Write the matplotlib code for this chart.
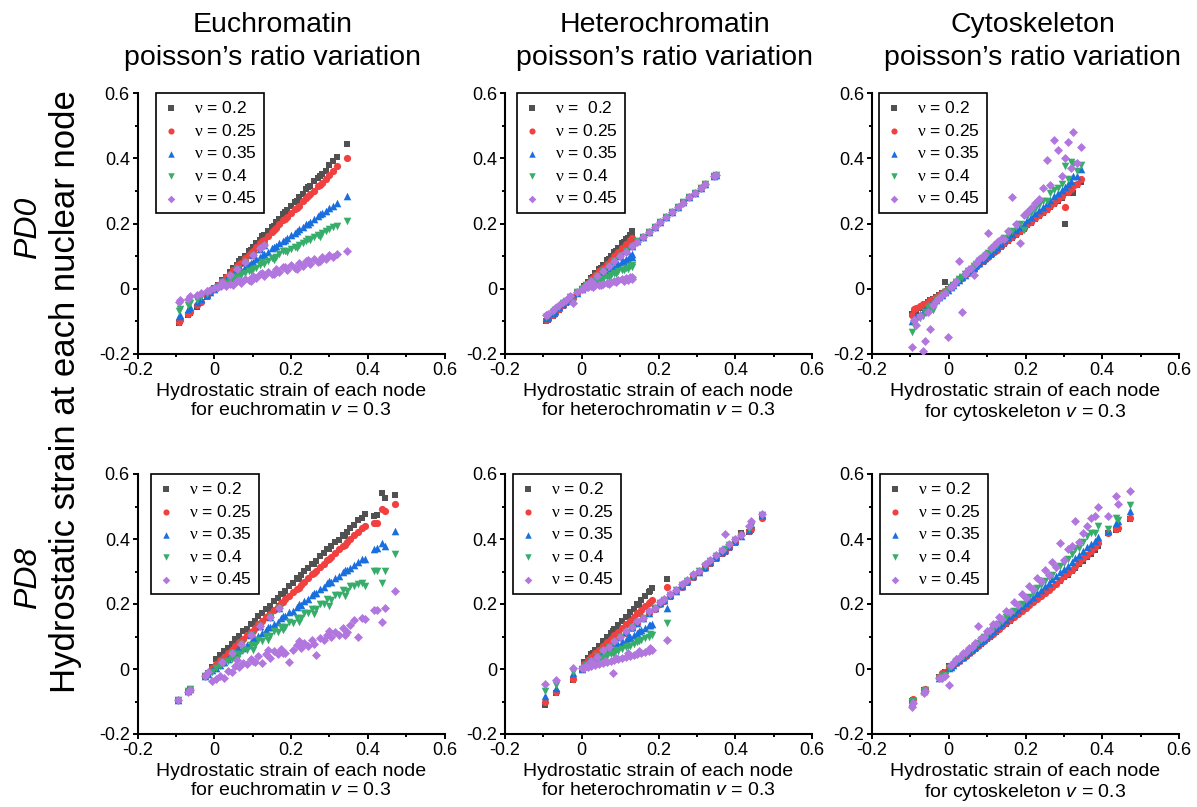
import matplotlib
matplotlib.use('Agg')
import matplotlib.pyplot as plt
from matplotlib.ticker import MultipleLocator, FixedLocator, FuncFormatter

plt.rcParams['font.family'] = ['Liberation Sans', 'DejaVu Sans']
plt.rcParams['mathtext.fontset'] = 'custom'
plt.rcParams['mathtext.rm'] = 'Liberation Serif'
plt.rcParams['mathtext.it'] = 'Liberation Sans:italic'
plt.rcParams['mathtext.bf'] = 'Liberation Sans:bold'
plt.rcParams['axes.unicode_minus'] = False

# ---------------- data ----------------
nu_values = ['0.2', '0.25', '0.35', '0.4', '0.45']
col_titles = ['Euchromatin', 'Heterochromatin', 'Cytoskeleton']
col_subtitle = 'poisson\u2019s ratio variation'
materials = ['euchromatin', 'heterochromatin', 'cytoskeleton']
row_labels = ['PD0', 'PD8']
ticks = [-0.2, 0, 0.2, 0.4, 0.6]

# Panel A: PD0, euchromatin
xA = [-0.092, -0.088, -0.068, -0.063, -0.045, -0.035, -0.020, -0.010, 0.000,
      0.010, 0.020, 0.030, 0.040, 0.050, 0.060, 0.070, 0.080, 0.090, 0.100,
      0.110, 0.120, 0.130, 0.140, 0.150, 0.160, 0.170, 0.180, 0.190, 0.200,
      0.210, 0.220, 0.230, 0.240, 0.250, 0.260, 0.270, 0.280, 0.290, 0.300,
      0.310, 0.320, 0.347,
      0.020, 0.040, 0.060, 0.080, 0.100, 0.120, 0.130,
      0.065, 0.095, 0.125, 0.155, 0.185, 0.215, 0.245, 0.275]
yA_02 = [-0.105, -0.099, -0.081, -0.074, -0.055, -0.042, -0.024, -0.011, 0.002,
         0.013, 0.027, 0.037, 0.052, 0.065, 0.074, 0.090, 0.100, 0.115, 0.128,
         0.140, 0.150, 0.166, 0.178, 0.190, 0.205, 0.214, 0.230, 0.240, 0.254,
         0.266, 0.280, 0.290, 0.305, 0.316, 0.330, 0.338, 0.352, 0.362, 0.378,
         0.392, 0.405, 0.445,
         0.022, 0.043, 0.064, 0.085, 0.107, 0.128, 0.138,
         0.084, 0.118, 0.161, 0.193, 0.236, 0.268, 0.312, 0.345]
yA_025 = [-0.101, -0.096, -0.077, -0.071, -0.051, -0.040, -0.022, -0.010, 0.000,
          0.011, 0.022, 0.035, 0.046, 0.057, 0.070, 0.080, 0.094, 0.103, 0.116,
          0.127, 0.140, 0.150, 0.163, 0.174, 0.186, 0.197, 0.210, 0.220, 0.232,
          0.244, 0.254, 0.268, 0.278, 0.290, 0.300, 0.314, 0.325, 0.336, 0.348,
          0.360, 0.375, 0.400,
          0.021, 0.042, 0.063, 0.084, 0.105, 0.126, 0.136,
          0.075, 0.110, 0.145, 0.180, 0.215, 0.249, 0.284, 0.319]
yA_035 = [-0.082, -0.079, -0.062, -0.056, -0.040, -0.031, -0.018, -0.009, 0.000,
          0.008, 0.016, 0.026, 0.033, 0.042, 0.049, 0.058, 0.067, 0.073, 0.083,
          0.091, 0.098, 0.108, 0.114, 0.124, 0.131, 0.140, 0.147, 0.157, 0.164,
          0.172, 0.182, 0.188, 0.198, 0.205, 0.213, 0.222, 0.231, 0.237, 0.247,
          0.255, 0.264, 0.285,
          0.020, 0.041, 0.061, 0.082, 0.102, 0.122, 0.133,
          0.055, 0.080, 0.101, 0.129, 0.150, 0.178, 0.199, 0.228]
yA_04 = [-0.067, -0.062, -0.051, -0.045, -0.034, -0.026, -0.015, -0.007, 0.000,
         0.006, 0.013, 0.017, 0.025, 0.029, 0.037, 0.041, 0.049, 0.053, 0.062,
         0.065, 0.074, 0.077, 0.086, 0.094, 0.098, 0.106, 0.116, 0.112, 0.123,
         0.128, 0.135, 0.140, 0.147, 0.148, 0.158, 0.165, 0.170, 0.176, 0.183,
         0.188, 0.193, 0.208,
         0.020, 0.040, 0.061, 0.081, 0.101, 0.121, 0.131,
         0.045, 0.054, 0.081, 0.087, 0.117, 0.125, 0.152, 0.160]
yA_045 = [-0.041, -0.036, -0.030, -0.022, -0.019, -0.013, -0.008, -0.003, 0.001,
          0.004, 0.010, 0.008, 0.016, 0.012, 0.024, 0.019, 0.030, 0.026, 0.038,
          0.032, 0.045, 0.038, 0.051, 0.046, 0.060, 0.052, 0.066, 0.058, 0.072,
          0.064, 0.079, 0.070, 0.086, 0.075, 0.092, 0.081, 0.098, 0.090, 0.104,
          0.098, 0.106, 0.116,
          0.021, 0.041, 0.062, 0.083, 0.104, 0.125, 0.133,
          0.028, 0.025, 0.048, 0.044, 0.068, 0.060, 0.088, 0.085]

# Panel B: PD0, heterochromatin
xB = [-0.092, -0.088, -0.075, -0.070, -0.058, -0.048, -0.040, -0.030, -0.023, -0.012,
      0.000, 0.012, 0.025, 0.040, 0.055, 0.070, 0.085, 0.100, 0.115, 0.130,
      0.145, 0.160, 0.175, 0.190, 0.205, 0.220, 0.235, 0.250, 0.265, 0.280,
      0.295, 0.310, 0.322, 0.345, 0.350,
      0.005, 0.015, 0.025, 0.035, 0.045, 0.055, 0.065, 0.075, 0.085, 0.095, 0.105, 0.115, 0.125, 0.132,
      0.030, 0.050, 0.070, 0.090, 0.110, 0.120, 0.130]
yB_02 = [-0.099, -0.095, -0.082, -0.076, -0.064, -0.052, -0.044, -0.033, -0.030, -0.014,
         0.000, 0.012, 0.025, 0.040, 0.055, 0.070, 0.085, 0.100, 0.115, 0.130,
         0.145, 0.160, 0.175, 0.190, 0.205, 0.220, 0.235, 0.250, 0.265, 0.280,
         0.295, 0.310, 0.322, 0.345, 0.350,
         0.007, 0.020, 0.033, 0.047, 0.060, 0.073, 0.087, 0.100, 0.113, 0.126, 0.140, 0.153, 0.166, 0.177,
         0.037, 0.064, 0.090, 0.116, 0.142, 0.155, 0.168]
yB_025 = [-0.096, -0.092, -0.079, -0.074, -0.062, -0.050, -0.042, -0.031, -0.028, -0.013,
          0.000, 0.012, 0.025, 0.040, 0.055, 0.070, 0.085, 0.100, 0.115, 0.130,
          0.145, 0.160, 0.175, 0.190, 0.205, 0.220, 0.235, 0.250, 0.265, 0.280,
          0.295, 0.310, 0.322, 0.345, 0.350,
          0.006, 0.018, 0.030, 0.041, 0.053, 0.065, 0.077, 0.089, 0.100, 0.112, 0.124, 0.136, 0.148, 0.156,
          0.033, 0.056, 0.079, 0.102, 0.125, 0.137, 0.149]
yB_035 = [-0.089, -0.086, -0.074, -0.068, -0.057, -0.047, -0.039, -0.028, -0.036, -0.012,
          0.000, 0.012, 0.025, 0.040, 0.055, 0.070, 0.085, 0.100, 0.115, 0.130,
          0.145, 0.160, 0.175, 0.190, 0.205, 0.220, 0.235, 0.250, 0.265, 0.280,
          0.295, 0.310, 0.322, 0.345, 0.350,
          0.004, 0.012, 0.020, 0.028, 0.036, 0.044, 0.052, 0.060, 0.068, 0.076, 0.084, 0.092, 0.100, 0.106,
          0.021, 0.036, 0.052, 0.067, 0.083, 0.090, 0.098]
yB_04 = [-0.086, -0.083, -0.071, -0.066, -0.055, -0.045, -0.037, -0.026, -0.040, -0.011,
         0.000, 0.012, 0.025, 0.040, 0.055, 0.070, 0.085, 0.100, 0.115, 0.130,
         0.145, 0.160, 0.175, 0.190, 0.205, 0.220, 0.235, 0.250, 0.265, 0.280,
         0.295, 0.310, 0.322, 0.345, 0.350,
         0.003, 0.008, 0.014, 0.020, 0.025, 0.031, 0.036, 0.042, 0.048, 0.053, 0.059, 0.064, 0.070, 0.074,
         0.014, 0.024, 0.035, 0.045, 0.056, 0.061, 0.067]
yB_045 = [-0.080, -0.078, -0.066, -0.060, -0.050, -0.040, -0.034, -0.022, -0.044, -0.010,
          0.000, 0.011, 0.024, 0.040, 0.054, 0.070, 0.084, 0.100, 0.114, 0.130,
          0.144, 0.160, 0.174, 0.190, 0.204, 0.220, 0.234, 0.250, 0.264, 0.280,
          0.294, 0.310, 0.322, 0.345, 0.348,
          0.002, 0.004, 0.007, 0.010, 0.013, 0.016, 0.019, 0.021, 0.024, 0.027, 0.030, 0.032, 0.035, 0.037,
          0.006, 0.011, 0.015, 0.020, 0.024, 0.027, 0.030]

# Panel C: PD0, cytoskeleton
xC = [-0.095, -0.090, -0.085, -0.075, -0.068, -0.062, -0.055, -0.048, -0.040, -0.032,
      -0.025, -0.018, -0.010, -0.003, 0.005, 0.012, 0.020, 0.028, 0.035, 0.042,
      0.050, 0.058, 0.065, 0.072, 0.080, 0.088, 0.095, 0.102, 0.110, 0.118,
      0.125, 0.135, 0.145, 0.155, 0.165, 0.175, 0.185, 0.195, 0.205, 0.215,
      0.225, 0.235, 0.245, 0.255, 0.265, 0.275, 0.285, 0.295, 0.302, 0.310,
      0.318, 0.325, 0.335, 0.345]
yC_02 = [-0.078, -0.072, -0.068, -0.058, -0.052, -0.048, -0.042, -0.036, -0.031, -0.025,
         -0.020, -0.012, 0.020, -0.002, 0.005, 0.011, 0.019, 0.027, 0.034, 0.040,
         0.047, 0.055, 0.062, 0.068, 0.076, 0.083, 0.090, 0.097, 0.104, 0.112,
         0.118, 0.128, 0.137, 0.147, 0.156, 0.166, 0.175, 0.184, 0.194, 0.203,
         0.213, 0.222, 0.232, 0.241, 0.251, 0.260, 0.270, 0.279, 0.200, 0.293,
         0.301, 0.292, 0.317, 0.327]
yC_025 = [-0.080, -0.062, -0.058, -0.052, -0.046, -0.050, -0.040, -0.036, -0.030, -0.024,
          -0.020, -0.014, -0.008, 0.000, 0.006, 0.012, 0.020, 0.027, 0.034, 0.041,
          0.048, 0.056, 0.062, 0.070, 0.077, 0.085, 0.091, 0.098, 0.106, 0.113,
          0.120, 0.130, 0.139, 0.149, 0.158, 0.168, 0.178, 0.187, 0.197, 0.206,
          0.216, 0.225, 0.235, 0.245, 0.254, 0.264, 0.274, 0.283, 0.250, 0.298,
          0.305, 0.314, 0.322, 0.336]
yC_035 = [-0.100, -0.096, -0.082, -0.078, -0.070, -0.062, -0.058, -0.050, -0.042, -0.034,
          -0.026, -0.019, -0.010, -0.003, 0.005, 0.012, 0.020, 0.028, 0.035, 0.042,
          0.050, 0.058, 0.065, 0.072, 0.080, 0.088, 0.095, 0.103, 0.111, 0.119,
          0.127, 0.137, 0.148, 0.158, 0.168, 0.179, 0.189, 0.199, 0.210, 0.220,
          0.231, 0.241, 0.252, 0.262, 0.273, 0.283, 0.294, 0.304, 0.311, 0.320,
          0.330, 0.346, 0.345, 0.366]
yC_04 = [-0.132, -0.110, -0.096, -0.090, -0.082, -0.071, -0.060, -0.052, -0.065, -0.036,
         -0.028, -0.020, -0.011, -0.003, 0.005, 0.013, 0.021, 0.030, 0.037, 0.045,
         0.053, 0.062, 0.069, 0.077, 0.085, 0.094, 0.101, 0.109, 0.118, 0.126,
         0.134, 0.145, 0.156, 0.167, 0.178, 0.189, 0.200, 0.180, 0.222, 0.232,
         0.244, 0.256, 0.268, 0.270, 0.292, 0.302, 0.310, 0.322, 0.375, 0.335,
         0.390, 0.382, 0.360, 0.380]
yC_045 = [-0.180, -0.096, -0.110, -0.085, -0.190, -0.160, -0.070, -0.122, -0.050, -0.038,
          -0.028, -0.020, -0.012, -0.147, 0.006, 0.013, 0.024, 0.085, -0.070, 0.046,
          0.057, 0.064, 0.043, 0.080, 0.090, 0.098, 0.106, 0.170, 0.124, 0.133,
          0.142, 0.152, 0.151, 0.176, 0.280, 0.200, 0.141, 0.225, 0.236, 0.249,
          0.262, 0.274, 0.310, 0.395, 0.318, 0.455, 0.425, 0.345, 0.400, 0.450,
          0.370, 0.480, 0.385, 0.434]

# Panel D: PD8, euchromatin
xD = [-0.095, -0.068, -0.063, -0.024, -0.015, -0.005, 0.005, 0.015, 0.025, 0.035,
      0.045, 0.055, 0.065, 0.075, 0.085, 0.095, 0.105, 0.115, 0.125, 0.135,
      0.145, 0.155, 0.165, 0.175, 0.185, 0.195, 0.205, 0.215, 0.225, 0.235,
      0.245, 0.255, 0.265, 0.275, 0.285, 0.295, 0.305, 0.315, 0.325, 0.335,
      0.345, 0.355, 0.365, 0.375, 0.385, 0.393, 0.415, 0.424, 0.437, 0.444, 0.472,
      0.020, 0.045, 0.070, 0.095, 0.120, 0.145, 0.170,
      0.060, 0.100, 0.140, 0.180, 0.220, 0.260, 0.300, 0.340]
yD_02 = [-0.096, -0.070, -0.062, -0.020, -0.012, 0.005, 0.031, 0.043, 0.054, 0.066,
         0.078, 0.092, 0.101, 0.116, 0.124, 0.138, 0.148, 0.162, 0.171, 0.185,
         0.195, 0.209, 0.218, 0.232, 0.241, 0.255, 0.265, 0.279, 0.288, 0.302,
         0.310, 0.324, 0.333, 0.347, 0.356, 0.368, 0.377, 0.390, 0.398, 0.412,
         0.421, 0.434, 0.443, 0.457, 0.466, 0.476, 0.470, 0.474, 0.543, 0.526, 0.536,
         0.024, 0.052, 0.081, 0.109, 0.138, 0.166, 0.195,
         0.090, 0.138, 0.185, 0.232, 0.278, 0.322, 0.368, 0.410]
yD_025 = [-0.096, -0.069, -0.062, -0.020, -0.012, 0.004, 0.016, 0.027, 0.038, 0.049,
          0.060, 0.071, 0.082, 0.093, 0.104, 0.115, 0.126, 0.137, 0.148, 0.159,
          0.170, 0.181, 0.192, 0.203, 0.214, 0.225, 0.236, 0.247, 0.258, 0.269,
          0.280, 0.291, 0.302, 0.313, 0.324, 0.335, 0.346, 0.357, 0.368, 0.379,
          0.390, 0.401, 0.412, 0.423, 0.434, 0.440, 0.448, 0.449, 0.492, 0.485, 0.507,
          0.023, 0.050, 0.079, 0.107, 0.135, 0.163, 0.191,
          0.075, 0.118, 0.162, 0.206, 0.250, 0.294, 0.338, 0.382]
yD_035 = [-0.096, -0.068, -0.062, -0.021, -0.014, -0.004, 0.004, 0.013, 0.022, 0.031,
          0.040, 0.048, 0.057, 0.066, 0.075, 0.084, 0.092, 0.101, 0.110, 0.119,
          0.128, 0.139, 0.145, 0.157, 0.163, 0.175, 0.180, 0.192, 0.198, 0.210,
          0.216, 0.228, 0.233, 0.246, 0.251, 0.264, 0.268, 0.281, 0.286, 0.299,
          0.304, 0.312, 0.321, 0.330, 0.339, 0.337, 0.370, 0.373, 0.389, 0.380, 0.425,
          0.022, 0.049, 0.077, 0.105, 0.133, 0.161, 0.189,
          0.058, 0.093, 0.128, 0.163, 0.199, 0.234, 0.270, 0.305]
yD_04 = [-0.096, -0.068, -0.062, -0.022, -0.015, -0.008, 0.003, 0.010, 0.017, 0.024,
         0.031, 0.046, 0.045, 0.060, 0.059, 0.074, 0.073, 0.088, 0.087, 0.102,
         0.101, 0.116, 0.115, 0.130, 0.129, 0.144, 0.143, 0.158, 0.157, 0.172,
         0.171, 0.186, 0.185, 0.200, 0.199, 0.214, 0.213, 0.228, 0.227, 0.242,
         0.241, 0.256, 0.255, 0.262, 0.265, 0.255, 0.301, 0.301, 0.265, 0.301, 0.353,
         0.022, 0.049, 0.077, 0.104, 0.132, 0.160, 0.188,
         0.030, 0.060, 0.090, 0.120, 0.145, 0.170, 0.195, 0.225]
yD_045 = [-0.096, -0.072, -0.065, -0.022, -0.010, -0.037, -0.030, -0.020, -0.029, -0.005,
          -0.008, 0.010, 0.005, 0.020, 0.015, 0.030, 0.022, 0.040, 0.018, 0.045,
          0.035, 0.055, 0.045, 0.062, 0.050, 0.023, 0.060, 0.075, 0.065, 0.080,
          0.070, 0.088, 0.043, 0.095, 0.090, 0.105, 0.100, 0.115, 0.105, 0.125,
          0.115, 0.136, 0.150, 0.100, 0.157, 0.155, 0.182, 0.182, 0.146, 0.188, 0.241,
          0.022, 0.049, 0.077, 0.104, 0.132, 0.160, 0.187,
          0.028, 0.025, 0.060, 0.048, 0.085, 0.078, 0.118, 0.105]

# Panel E: PD8, heterochromatin
xE = [0.000, 0.012, 0.025, 0.040, 0.055, 0.070, 0.085, 0.100, 0.115, 0.130,
      0.145, 0.160, 0.175, 0.190, 0.205, 0.215, 0.230, 0.245, 0.260, 0.275,
      0.290, 0.305, 0.320, 0.335, 0.350, 0.365, 0.373, 0.385, 0.400, 0.414,
      0.436, 0.442, 0.470,
      -0.097, -0.067, -0.023, 0.005, 0.015, 0.025, 0.035, 0.045, 0.055, 0.065,
      0.075, 0.085, 0.095, 0.105, 0.115, 0.125, 0.135, 0.145, 0.155, 0.165,
      0.175, 0.183, 0.221, 0.081,
      0.030, 0.060, 0.090, 0.120, 0.150, 0.178]
yE_02 = [0.000, 0.012, 0.024, 0.039, 0.053, 0.068, 0.082, 0.097, 0.111, 0.126,
         0.140, 0.155, 0.170, 0.184, 0.199, 0.208, 0.223, 0.237, 0.252, 0.266,
         0.281, 0.295, 0.310, 0.324, 0.339, 0.353, 0.361, 0.373, 0.388, 0.420,
         0.423, 0.429, 0.470,
         -0.111, -0.075, -0.034, 0.021, 0.034, 0.047, 0.059, 0.072, 0.085, 0.098,
         0.110, 0.123, 0.136, 0.148, 0.161, 0.174, 0.186, 0.199, 0.212, 0.225,
         0.237, 0.248, 0.278, 0.118,
         0.048, 0.086, 0.123, 0.160, 0.196, 0.240]
yE_025 = [0.001, 0.012, 0.025, 0.039, 0.054, 0.068, 0.083, 0.098, 0.112, 0.127,
          0.141, 0.156, 0.171, 0.185, 0.200, 0.210, 0.224, 0.239, 0.253, 0.268,
          0.283, 0.297, 0.312, 0.326, 0.341, 0.356, 0.363, 0.375, 0.390, 0.414,
          0.425, 0.432, 0.466,
          -0.103, -0.070, -0.030, 0.016, 0.027, 0.038, 0.049, 0.060, 0.071, 0.082,
          0.093, 0.104, 0.115, 0.127, 0.138, 0.149, 0.160, 0.171, 0.182, 0.193,
          0.204, 0.213, 0.252, 0.100,
          0.040, 0.073, 0.106, 0.140, 0.172, 0.205]
yE_035 = [0.001, 0.012, 0.025, 0.039, 0.054, 0.069, 0.084, 0.098, 0.113, 0.128,
          0.143, 0.158, 0.172, 0.187, 0.202, 0.212, 0.227, 0.241, 0.256, 0.271,
          0.286, 0.300, 0.315, 0.330, 0.345, 0.360, 0.367, 0.379, 0.394, 0.408,
          0.429, 0.445, 0.473,
          -0.082, -0.058, -0.013, 0.010, 0.017, 0.024, 0.032, 0.039, 0.046, 0.054,
          0.061, 0.068, 0.075, 0.083, 0.090, 0.097, 0.105, 0.112, 0.119, 0.126,
          0.134, 0.140, 0.188, 0.065,
          0.030, 0.052, 0.074, 0.096, 0.118, 0.136]
yE_04 = [0.001, 0.012, 0.025, 0.040, 0.054, 0.069, 0.084, 0.099, 0.114, 0.129,
         0.144, 0.158, 0.173, 0.188, 0.203, 0.213, 0.228, 0.243, 0.258, 0.272,
         0.287, 0.302, 0.317, 0.332, 0.347, 0.362, 0.369, 0.381, 0.396, 0.410,
         0.432, 0.440, 0.474,
         -0.067, -0.048, -0.010, 0.007, 0.012, 0.018, 0.023, 0.029, 0.034, 0.040,
         0.045, 0.050, 0.056, 0.061, 0.067, 0.072, 0.078, 0.083, 0.088, 0.094,
         0.099, 0.104, 0.141, 0.050,
         0.026, 0.044, 0.058, 0.070, 0.086, 0.108]
yE_045 = [0.002, 0.010, 0.026, 0.038, 0.057, 0.069, 0.087, 0.098, 0.117, 0.129,
          0.147, 0.158, 0.178, 0.189, 0.207, 0.216, 0.232, 0.244, 0.262, 0.274,
          0.292, 0.303, 0.322, 0.334, 0.352, 0.366, 0.414, 0.385, 0.401, 0.412,
          0.440, 0.455, 0.476,
          -0.045, -0.035, 0.002, 0.004, 0.007, 0.010, 0.013, 0.016, 0.019, 0.022,
          0.025, 0.028, 0.031, 0.034, 0.038, 0.041, 0.044, 0.047, 0.050, 0.053,
          0.056, 0.059, 0.090, -0.013,
          0.018, 0.026, 0.035, 0.048, 0.055, 0.066]

# Panel F: PD8, cytoskeleton
xF = [-0.097, -0.093, -0.065, -0.062, -0.025, -0.018, -0.010, 0.000, 0.005, 0.012,
      0.020, 0.028, 0.036, 0.044, 0.052, 0.060, 0.068, 0.076, 0.084, 0.092,
      0.100, 0.108, 0.116, 0.124, 0.132, 0.140, 0.150, 0.160, 0.170, 0.180,
      0.190, 0.200, 0.210, 0.220, 0.230, 0.240, 0.250, 0.260, 0.270, 0.280,
      0.290, 0.300, 0.310, 0.320, 0.330, 0.340, 0.350, 0.360, 0.370, 0.380,
      0.390, 0.415, 0.437, 0.441, 0.472]
yF_02 = [-0.098, -0.095, -0.066, -0.064, -0.026, -0.020, -0.010, 0.008, 0.004, 0.010,
         0.018, 0.025, 0.033, 0.040, 0.048, 0.055, 0.063, 0.070, 0.078, 0.085,
         0.093, 0.100, 0.108, 0.115, 0.123, 0.131, 0.140, 0.149, 0.159, 0.168,
         0.177, 0.187, 0.196, 0.205, 0.215, 0.224, 0.233, 0.243, 0.252, 0.262,
         0.271, 0.282, 0.290, 0.303, 0.311, 0.322, 0.333, 0.344, 0.355, 0.366,
         0.380, 0.418, 0.428, 0.432, 0.463]
yF_025 = [-0.095, -0.092, -0.064, -0.061, -0.024, -0.012, -0.008, 0.006, 0.005, 0.011,
          0.019, 0.026, 0.034, 0.041, 0.049, 0.056, 0.064, 0.071, 0.079, 0.086,
          0.094, 0.101, 0.109, 0.116, 0.124, 0.132, 0.141, 0.150, 0.160, 0.169,
          0.178, 0.188, 0.197, 0.206, 0.216, 0.225, 0.234, 0.244, 0.253, 0.263,
          0.273, 0.285, 0.294, 0.306, 0.318, 0.330, 0.343, 0.352, 0.362, 0.375,
          0.388, 0.420, 0.432, 0.435, 0.466]
yF_035 = [-0.100, -0.096, -0.067, -0.063, -0.027, -0.016, -0.012, 0.002, 0.006, 0.013,
          0.021, 0.029, 0.037, 0.045, 0.053, 0.061, 0.069, 0.077, 0.085, 0.093,
          0.101, 0.109, 0.117, 0.126, 0.134, 0.142, 0.152, 0.162, 0.172, 0.182,
          0.193, 0.203, 0.213, 0.223, 0.234, 0.244, 0.254, 0.265, 0.276, 0.286,
          0.297, 0.308, 0.318, 0.330, 0.342, 0.352, 0.363, 0.375, 0.385, 0.395,
          0.405, 0.425, 0.450, 0.455, 0.487]
yF_04 = [-0.102, -0.099, -0.068, -0.065, -0.028, -0.022, -0.018, 0.004, 0.006, 0.013,
         0.021, 0.030, 0.038, 0.046, 0.055, 0.063, 0.072, 0.080, 0.089, 0.097,
         0.106, 0.114, 0.123, 0.131, 0.140, 0.148, 0.159, 0.169, 0.180, 0.198,
         0.201, 0.212, 0.222, 0.233, 0.250, 0.258, 0.270, 0.283, 0.290, 0.310,
         0.318, 0.325, 0.340, 0.355, 0.370, 0.373, 0.390, 0.410, 0.418, 0.420,
         0.440, 0.430, 0.466, 0.460, 0.505]
yF_045 = [-0.117, -0.105, -0.075, -0.068, -0.028, -0.029, -0.020, -0.050, 0.012, 0.020,
          0.030, 0.035, 0.048, 0.052, 0.065, 0.068, 0.080, 0.131, 0.095, 0.100,
          0.118, 0.120, 0.140, 0.138, 0.160, 0.155, 0.180, 0.175, 0.205, 0.198,
          0.230, 0.220, 0.255, 0.245, 0.280, 0.270, 0.305, 0.290, 0.330, 0.315,
          0.389, 0.335, 0.370, 0.380, 0.456, 0.390, 0.420, 0.440, 0.466, 0.470,
          0.497, 0.470, 0.533, 0.507, 0.548]

# ---------------- styling ----------------
colors = ['#515151', '#F14040', '#1A6FDF', '#37AD6B', '#B177DE']
markers = ['s', 'o', '^', 'v', 'D']
msizes = [19, 27, 30, 30, 21]

panels = [
    (0, 0, xA, [yA_02, yA_025, yA_035, yA_04, yA_045], 0.060),
    (0, 1, xB, [yB_02, yB_025, yB_035, yB_04, yB_045], 0.039),
    (0, 2, xC, [yC_02, yC_025, yC_035, yC_04, yC_045], 0.023),
    (1, 0, xD, [yD_02, yD_025, yD_035, yD_04, yD_045], 0.044),
    (1, 1, xE, [yE_02, yE_025, yE_035, yE_04, yE_045], 0.026),
    (1, 2, xF, [yF_02, yF_025, yF_035, yF_04, yF_045], 0.026),
]

W, H = 1197, 807
fig = plt.figure(figsize=(W / 100, H / 100), dpi=100)

lefts_px = [137.5, 505, 872]
width_px = 307
rows_px = [(93, 354), (474, 734)]


def fmt(v, pos):
    return '0' if abs(v) < 1e-9 else '%.1f' % v


for r, c, xs, ys_list, leg_x in panels:
    top, bot = rows_px[r]
    ax = fig.add_axes([lefts_px[c] / W, 1 - bot / H, width_px / W, (bot - top) / H])
    for k, ys in enumerate(ys_list):
        n = min(len(xs), len(ys))
        lab = r'$\mathrm{\nu}$ = ' + nu_values[k]
        if r == 0 and c == 1 and k == 0:
            lab = r'$\mathrm{\nu}$ =  ' + nu_values[k]
        ax.scatter(xs[:n], ys[:n], s=msizes[k], marker=markers[k], color=colors[k],
                   linewidths=0, label=lab, zorder=2 + k)
    ax.set_xlim(-0.2, 0.6)
    ax.set_ylim(-0.2, 0.6)
    ax.xaxis.set_major_locator(FixedLocator(ticks))
    ax.yaxis.set_major_locator(FixedLocator(ticks))
    ax.xaxis.set_minor_locator(MultipleLocator(0.1))
    ax.yaxis.set_minor_locator(MultipleLocator(0.1))
    ax.xaxis.set_major_formatter(FuncFormatter(fmt))
    ax.yaxis.set_major_formatter(FuncFormatter(fmt))
    for s in ['top', 'right']:
        ax.spines[s].set_visible(False)
    for s in ['left', 'bottom']:
        ax.spines[s].set_linewidth(1.5)
    ax.tick_params(which='major', direction='out', length=3.5, width=1.4,
                   labelsize=13, pad=2)
    ax.tick_params(which='minor', direction='out', length=2.2, width=1.4)
    ax.set_xlabel('Hydrostatic strain of each node\nfor ' + materials[c] +
                  r' $\mathit{v}$ = 0.3', fontsize=14, labelpad=3, linespacing=1.15)
    leg = ax.legend(loc='upper left', bbox_to_anchor=(leg_x, 1.0), frameon=True,
                    fancybox=False, edgecolor='black', framealpha=1, fontsize=12.5,
                    handlelength=0.9, handletextpad=0.9, labelspacing=0.38,
                    borderpad=0.4, borderaxespad=0, scatterpoints=1, markerscale=0.85)
    leg.get_frame().set_linewidth(1.2)
    leg.set_zorder(20)

col_centers = [273, 665, 1033]
for c in range(3):
    fig.text(col_centers[c] / W, 1 - 32 / H, col_titles[c], fontsize=20.5,
             ha='center', va='baseline')
    fig.text(col_centers[c] / W, 1 - 65 / H, col_subtitle, fontsize=20.5,
             ha='center', va='baseline')

fig.text(28 / W, 1 - 228 / H, row_labels[0], rotation=90, fontsize=23,
         style='italic', ha='center', va='center')
fig.text(28 / W, 1 - 578 / H, row_labels[1], rotation=90, fontsize=23,
         style='italic', ha='center', va='center')
fig.text(66 / W, 1 - 392 / H, 'Hydrostatic strain at each nuclear node', rotation=90,
         fontsize=25, ha='center', va='center')

fig.savefig('out.png', dpi=100)
